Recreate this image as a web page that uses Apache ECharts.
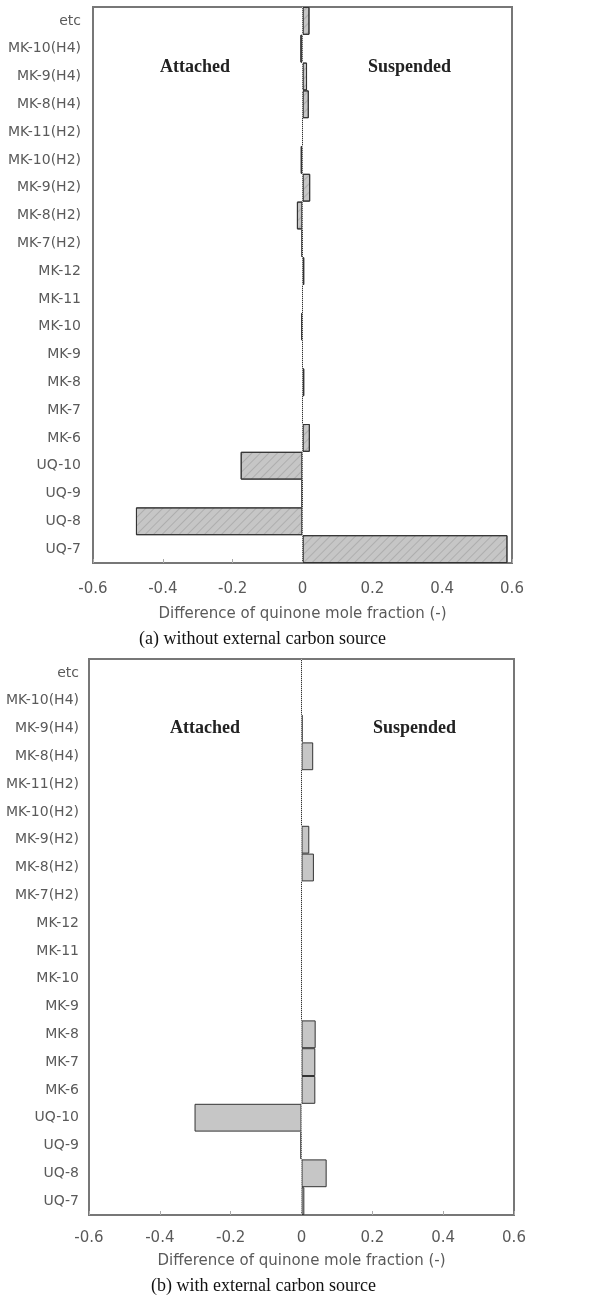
<!DOCTYPE html>
<html>
<head>
<meta charset="utf-8">
<script src="https://cdn.jsdelivr.net/npm/echarts@6/dist/echarts.min.js"></script>
<style>
html,body{margin:0;padding:0;background:#fff;}
#chart{width:614px;height:1299px;}
</style>
</head>
<body>
<div id="chart"></div>
<script>
// Categories, top to bottom
const categories = ['etc','MK-10(H4)','MK-9(H4)','MK-8(H4)','MK-11(H2)','MK-10(H2)','MK-9(H2)','MK-8(H2)','MK-7(H2)','MK-12','MK-11','MK-10','MK-9','MK-8','MK-7','MK-6','UQ-10','UQ-9','UQ-8','UQ-7'];
// (a) without external carbon source
const valuesA = [0.020,-0.006,0.013,0.018,0,-0.005,0.022,-0.016,-0.002,0.005,0,-0.003,0,0.005,0,0.021,-0.177,-0.002,-0.477,0.587];
// (b) with external carbon source
const valuesB = [0,0,0.003,0.033,0,0,0.022,0.035,0,0,0,0,0,0.040,0.039,0.039,-0.302,-0.003,0.071,0.008];
const xTicks = [-0.6,-0.4,-0.2,0,0.2,0.4,0.6];
const axisTitle = 'Difference of quinone mole fraction (-)';
const captionA = '(a) without external carbon source';
const captionB = '(b) with external carbon source';
const sideLeft = 'Attached';
const sideRight = 'Suspended';

const chart = echarts.init(document.getElementById('chart'), null, {renderer:'canvas'});
const labelFont = 'DejaVu Sans';
const grids = [
  {left:93, width:419, top:7, height:556, show:true, borderColor:'#777', borderWidth:2, backgroundColor:'transparent'},
  {left:89, width:425, top:659, height:556, show:true, borderColor:'#777', borderWidth:2, backgroundColor:'transparent'}
];
function xAxisFor(i, labelMargin, nameGap){
  return {
    gridIndex:i, type:'value', min:xTicks[0], max:xTicks[xTicks.length-1], interval:0.2,
    axisLine:{show:false},
    axisTick:{show:true, inside:true, length:4, lineStyle:{color:'#aaa'}},
    splitLine:{show:false},
    axisLabel:{color:'#5a5a5a', fontSize:15, fontFamily:labelFont, margin:labelMargin,
      formatter:v=>{const r=Math.round(v*10)/10; return r===0?'0':String(r);}},
    name:axisTitle, nameLocation:'middle', nameGap:nameGap,
    nameTextStyle:{color:'#5a5a5a', fontSize:15, fontFamily:labelFont}
  };
}
function yAxisFor(i, margin){
  return {
    gridIndex:i, type:'category', data:categories, inverse:true,
    axisLine:{show:false}, axisTick:{show:false}, splitLine:{show:false},
    axisLabel:{color:'#5a5a5a', fontSize:14, fontFamily:labelFont, margin:margin}
  };
}
function seriesFor(i, data, hatch){
  const s = {
    type:'bar', xAxisIndex:i, yAxisIndex:i, data:data, barCategoryGap:'0%',
    itemStyle:{color:'#c6c6c6', borderColor:'#333', borderWidth:1},
    markLine:{silent:true, symbol:'none', label:{show:false},
      lineStyle:{type:'dotted', color:'#c8c8c8', width:1},
      data:[{xAxis:0}]},
    z:3
  };
  if(hatch){
    s.itemStyle.decal = {symbol:'rect', symbolSize:1, dashArrayX:[1,0], dashArrayY:[1,5], rotation:-Math.PI/4, color:'rgba(0,0,0,0.12)'};
  }
  return s;
}
const sideStyle = {font:'bold 18px "Liberation Serif"', fill:'#222', textAlign:'center', textVerticalAlign:'middle'};
const capStyle = {font:'18px "Liberation Serif"', fill:'#111', textAlign:'center', textVerticalAlign:'middle'};
chart.setOption({
  animation:false,
  backgroundColor:'#fff',
  grid:grids,
  xAxis:[xAxisFor(0, 19, 44), xAxisFor(1, 16, 39)],
  yAxis:[yAxisFor(0, 12), yAxisFor(1, 10)],
  series:[seriesFor(0, valuesA, true), seriesFor(1, valuesB, false)],
  graphic:[
    {type:'text', left:160, top:58, style:Object.assign({text:sideLeft}, sideStyle), z:10},
    {type:'text', left:368, top:58, style:Object.assign({text:sideRight}, sideStyle), z:10},
    {type:'text', left:170, top:719, style:Object.assign({text:sideLeft}, sideStyle), z:10},
    {type:'text', left:373, top:719, style:Object.assign({text:sideRight}, sideStyle), z:10},
    {type:'text', left:139, top:630, style:Object.assign({text:captionA}, capStyle), z:10},
    {type:'text', left:151, top:1277, style:Object.assign({text:captionB}, capStyle), z:10}
  ]
});
</script>
</body>
</html>
